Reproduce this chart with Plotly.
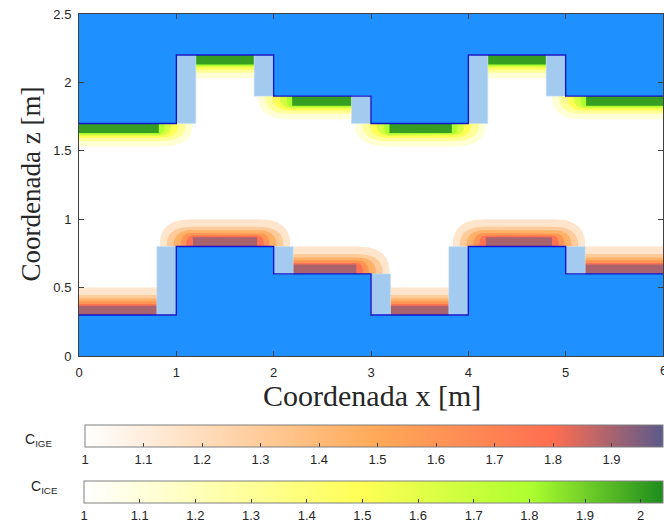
import numpy as np
import plotly.graph_objects as go
from plotly.colors import sample_colorscale

# ---- geometry of the two stepped bodies ----
seg_x = [0, 1, 2, 3, 4, 5, 6]
lower_z = [0.3, 0.8, 0.6, 0.3, 0.8, 0.6]      # top surface of lower body, per segment
upper_z = [1.7, 2.2, 1.9, 1.7, 2.2, 1.9]      # bottom surface of upper body, per segment
z_max = 2.5

# transition blocks beside each step
lower_blk_x0 = [0.8, 2.0, 3.0, 3.8, 5.0]
lower_blk_x1 = [1.0, 2.2, 3.2, 4.0, 5.2]
lower_blk_z0 = [0.3, 0.6, 0.3, 0.3, 0.6]
lower_blk_z1 = [0.8, 0.8, 0.6, 0.8, 0.8]
upper_blk_x0 = [1.0, 1.8, 2.8, 4.0, 4.8]
upper_blk_x1 = [1.2, 2.0, 3.0, 4.2, 5.0]
upper_blk_z0 = [1.7, 1.9, 1.7, 1.7, 1.9]
upper_blk_z1 = [2.2, 2.2, 1.9, 2.2, 2.2]

# ---- C_IGE zones above the lower body ----
ige_core_x0 = [-0.1, 1.17, 2.2, 3.2, 4.18, 5.2]
ige_core_x1 = [0.8, 1.83, 2.85, 3.8, 4.86, 6.1]
ige_surface = [0.3, 0.8, 0.6, 0.3, 0.8, 0.6]
ige_open_left = [0, 1, 0, 0, 1, 0]
ige_open_right = [0, 1, 1, 0, 1, 0]
ige_levels = [1.15, 1.3, 1.45, 1.6, 1.78, 1.9]
ige_depth = [0.2, 0.145, 0.12, 0.10, 0.08, 0.068]
ige_spread = [0.34, 0.27, 0.2, 0.13, 0.07, 0.0]
ige_range = [1.0, 1.988]
ige_ticks = [1, 1.1, 1.2, 1.3, 1.4, 1.5, 1.6, 1.7, 1.8, 1.9]
ige_colorscale = [[0, "#FFFFFF"], [0.5, "#FFAA58"], [0.81, "#FF6E50"], [1, "#5B5A8B"]]

# ---- C_ICE zones below the upper body ----
ice_core_x0 = [-0.1, 1.2, 2.19, 3.19, 4.2, 5.21]
ice_core_x1 = [0.82, 1.8, 2.8, 3.83, 4.8, 6.1]
ice_surface = [1.7, 2.2, 1.9, 1.7, 2.2, 1.9]
ice_open_left = [0, 0, 1, 1, 0, 1]
ice_open_right = [1, 0, 0, 1, 0, 0]
ice_levels = [1.12, 1.3, 1.5, 1.65, 1.8, 2.0]
ice_depth = [0.17, 0.13, 0.105, 0.09, 0.08, 0.07]
ice_spread = [0.35, 0.28, 0.2, 0.13, 0.06, 0.0]
ice_range = [1.0, 2.04]
ice_ticks = [1, 1.1, 1.2, 1.3, 1.4, 1.5, 1.6, 1.7, 1.8, 1.9, 2.0]
ice_colorscale = [[0, "#FFFFFF"], [0.48, "#FFFF55"], [0.77, "#ADFF2F"], [1, "#1E8C1E"]]

BLUE = "#1E90FF"
LIGHT_BLUE = "#A3CBF0"
EDGE = "#1414C8"
TXT = "#262626"
CORNER_EXP = 2.6


def step_profile(xs, zs):
    px, pz = [], []
    for i, z in enumerate(zs):
        px += [xs[i], xs[i + 1]]
        pz += [z, z]
    return px, pz


def zone_outline(x0, x1, z0, sign, d, e_left, e_right, n=30):
    # band of thickness d on a surface, with superelliptic tapering ends
    t = np.linspace(0, np.pi / 2, n)
    c = np.cos(t) ** (2 / CORNER_EXP)
    s = np.sin(t) ** (2 / CORNER_EXP)
    lx = x0 - e_left * c
    lz = z0 + sign * d * s
    rx = x1 + e_right * s
    rz = z0 + sign * d * c
    xs = np.concatenate([lx, rx, [lx[0]]])
    zs = np.concatenate([lz, rz, [lz[0]]])
    return xs, zs


def level_color(scale, lo, hi, v):
    return sample_colorscale(scale, [(v - lo) / (hi - lo)])[0]


fig = go.Figure()


def add_zones(core_x0, core_x1, surf, open_l, open_r, levels, depth, spread,
              sign, scale, rng):
    for lv, d, e in zip(levels, depth, spread):
        col = level_color(scale, rng[0], rng[1], lv)
        for x0, x1, z0, ol, orr in zip(core_x0, core_x1, surf, open_l, open_r):
            xs, zs = zone_outline(x0, x1, z0, sign, d, e * ol, e * orr)
            fig.add_trace(go.Scatter(x=xs, y=zs, mode="lines", fill="toself",
                                     fillcolor=col, line=dict(width=0),
                                     hoverinfo="skip", showlegend=False))


add_zones(ige_core_x0, ige_core_x1, ige_surface, ige_open_left, ige_open_right,
          ige_levels, ige_depth, ige_spread, +1, ige_colorscale, ige_range)
add_zones(ice_core_x0, ice_core_x1, ice_surface, ice_open_left, ice_open_right,
          ice_levels, ice_depth, ice_spread, -1, ice_colorscale, ice_range)

# lower body
px, pz = step_profile(seg_x, lower_z)
fig.add_trace(go.Scatter(x=[px[0]] + px + [px[-1], px[0]], y=[0] + pz + [0, 0],
                         mode="lines", fill="toself", fillcolor=BLUE,
                         line=dict(width=0), hoverinfo="skip", showlegend=False))
# upper body
ux, uz = step_profile(seg_x, upper_z)
fig.add_trace(go.Scatter(x=[ux[0]] + ux + [ux[-1], ux[0]], y=[z_max] + uz + [z_max, z_max],
                         mode="lines", fill="toself", fillcolor=BLUE,
                         line=dict(width=0), hoverinfo="skip", showlegend=False))

# transition blocks
for x0s, x1s, z0s, z1s in [(lower_blk_x0, lower_blk_x1, lower_blk_z0, lower_blk_z1),
                           (upper_blk_x0, upper_blk_x1, upper_blk_z0, upper_blk_z1)]:
    for x0, x1, z0, z1 in zip(x0s, x1s, z0s, z1s):
        fig.add_trace(go.Scatter(x=[x0, x1, x1, x0, x0], y=[z0, z0, z1, z1, z0],
                                 mode="lines", fill="toself", fillcolor=LIGHT_BLUE,
                                 line=dict(width=0.6, color="#C8DDF4"),
                                 hoverinfo="skip", showlegend=False))

# interface edges
fig.add_trace(go.Scatter(x=px, y=pz, mode="lines", line=dict(color=EDGE, width=1.4),
                         hoverinfo="skip", showlegend=False))
fig.add_trace(go.Scatter(x=ux, y=uz, mode="lines", line=dict(color=EDGE, width=1.4),
                         hoverinfo="skip", showlegend=False))

# colour bars
W, H = 664, 527
ML, MR, MT, MB = 79, 1, 14, 170
pw, ph = W - ML - MR, H - MT - MB


def px2paper_x(p):
    return (p - ML) / pw


def px2paper_y(p):
    return (H - MB - p) / ph


def add_bar(scale, rng, ticks, left_px, right_px, top_py):
    fig.add_trace(go.Scatter(
        x=[None], y=[None], mode="markers", hoverinfo="skip", showlegend=False,
        marker=dict(color=[rng[0]], colorscale=scale, cmin=rng[0], cmax=rng[1],
                    showscale=True,
                    colorbar=dict(orientation="h", lenmode="pixels",
                                  len=right_px - left_px, thickness=22,
                                  x=px2paper_x(left_px), xanchor="left",
                                  y=px2paper_y(top_py), yanchor="top",
                                  xpad=0, ypad=0,
                                  outlinecolor="#808080", outlinewidth=1,
                                  ticks="inside", ticklen=4, tickcolor="#404040",
                                  tickvals=ticks,
                                  ticktext=[f"{t:g}" for t in ticks],
                                  tickfont=dict(family="Liberation Sans", size=13,
                                                color=TXT)))))


add_bar(ige_colorscale, ige_range, ige_ticks, 85, 663, 425)
add_bar(ice_colorscale, ice_range, ice_ticks, 84, 663, 481)

axis_common = dict(showline=True, linecolor="#404040", linewidth=1, mirror="ticks",
                   ticks="inside", ticklen=5, tickcolor="#404040", showgrid=False,
                   zeroline=False,
                   tickfont=dict(family="Liberation Sans", size=13, color=TXT))

fig.update_layout(
    width=W, height=H, margin=dict(l=ML, r=MR, t=MT, b=MB),
    paper_bgcolor="white", plot_bgcolor="white",
    xaxis=dict(range=[0, 6], dtick=1, ticklabelstandoff=4, **axis_common),
    yaxis=dict(range=[0, 2.5], dtick=0.5, ticklabelstandoff=4, **axis_common),
    annotations=[
        dict(text="6", xref="x", yref="paper", x=6, y=px2paper_y(372),
             xanchor="center", yanchor="middle", showarrow=False,
             font=dict(family="Liberation Sans", size=13, color=TXT)),
        dict(text="Coordenada x [m]", xref="paper", yref="paper",
             x=px2paper_x(372), y=px2paper_y(397), xanchor="center", yanchor="middle",
             showarrow=False,
             font=dict(family="Liberation Serif", size=30, color=TXT)),
        dict(text="Coordenada z [m]", xref="paper", yref="paper",
             x=px2paper_x(31), y=px2paper_y(185), xanchor="center", yanchor="middle",
             showarrow=False, textangle=-90,
             font=dict(family="Liberation Serif", size=27, color=TXT)),
        dict(text="C<sub>IGE</sub>", xref="paper", yref="paper",
             x=px2paper_x(38), y=px2paper_y(441), xanchor="center", yanchor="middle",
             showarrow=False,
             font=dict(family="Liberation Sans", size=14, color=TXT)),
        dict(text="C<sub>ICE</sub>", xref="paper", yref="paper",
             x=px2paper_x(44), y=px2paper_y(488), xanchor="center", yanchor="middle",
             showarrow=False,
             font=dict(family="Liberation Sans", size=14, color=TXT)),
    ],
)

fig.write_html("out.html")
